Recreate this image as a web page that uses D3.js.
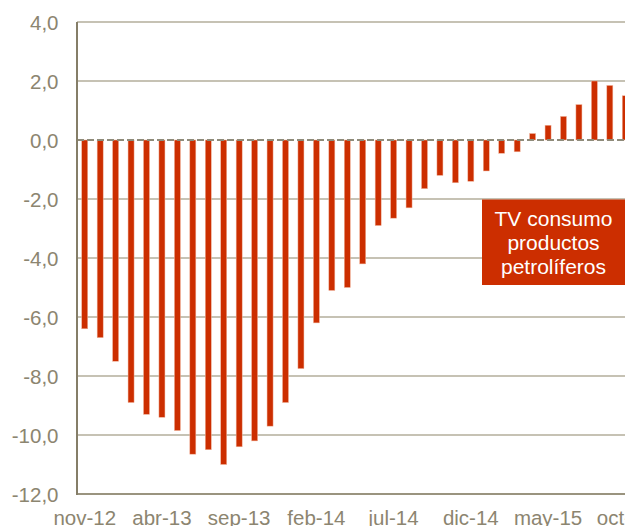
<!DOCTYPE html>
<html><head><meta charset="utf-8">
<script src="https://cdn.jsdelivr.net/npm/d3@7/dist/d3.min.js"></script>
<style>html,body{margin:0;padding:0;background:#fff;overflow:hidden}</style>
</head><body>
<script>
const months = ["nov-12","dic-12","ene-13","feb-13","mar-13","abr-13","may-13","jun-13","jul-13","ago-13","sep-13","oct-13","nov-13","dic-13","ene-14","feb-14","mar-14","abr-14","may-14","jun-14","jul-14","ago-14","sep-14","oct-14","nov-14","dic-14","ene-15","feb-15","mar-15","abr-15","may-15","jun-15","jul-15","ago-15","sep-15","oct-15"];
const values = [-6.4,-6.7,-7.5,-8.9,-9.3,-9.4,-9.85,-10.65,-10.5,-11.0,-10.4,-10.2,-9.7,-8.9,-7.75,-6.2,-5.1,-5.0,-4.2,-2.9,-2.65,-2.3,-1.65,-1.2,-1.45,-1.4,-1.05,-0.45,-0.4,0.22,0.5,0.8,1.2,2.0,1.85,1.5];
const yTicks = [4,2,0,-2,-4,-6,-8,-10,-12];
const xTickLabels = ["nov-12","abr-13","sep-13","feb-14","jul-14","dic-14","may-15","oct-15"];
const boxLines = ["TV consumo","productos","petrolíferos"];

const W = 625, H = 526;
const svg = d3.select("body").append("svg").attr("width", W).attr("height", H)
  .style("font-family", "'Liberation Sans', Arial, sans-serif");

const x = d3.scaleBand().domain(months).range([77, 633]).paddingInner(0.61).paddingOuter(0.305);
const y = d3.scaleLinear().domain([-12, 4]).range([494, 22]);
const txt = "#8c8570";

// gridlines
svg.append("g").selectAll("line").data(yTicks.filter(d => d !== 0)).join("line")
  .attr("x1", 77).attr("x2", W).attr("y1", d => y(d)).attr("y2", d => y(d))
  .attr("stroke", d => d === -12 ? "#9a947f" : "#c6c2b4").attr("stroke-width", 2);

// y labels
svg.append("g").selectAll("text").data(yTicks).join("text")
  .attr("x", 58.5).attr("y", d => y(d) + 7.7)
  .attr("text-anchor", "end").attr("font-size", 20.5).attr("fill", txt)
  .text(d => d3.format(".1f")(d).replace(".", ",").replace("−", "-"));

// bars
svg.append("g").selectAll("rect").data(values).join("rect")
  .attr("x", (d, i) => x(months[i])).attr("width", x.bandwidth())
  .attr("y", d => y(Math.max(0, d))).attr("height", d => Math.abs(y(d) - y(0)))
  .attr("fill", "#cc2e00").attr("stroke", "#f2b8a0").attr("stroke-width", 0.5);

// zero dashed line
svg.append("line").attr("x1", 77).attr("x2", W).attr("y1", y(0)).attr("y2", y(0))
  .attr("stroke", "#8f8b7a").attr("stroke-width", 2).attr("stroke-dasharray", "7,3");

// left axis
svg.append("line").attr("x1", 77).attr("x2", 77).attr("y1", y(4)).attr("y2", y(-12) + 1)
  .attr("stroke", "#857e68").attr("stroke-width", 2);

// x labels
svg.append("g").selectAll("text").data(xTickLabels).join("text")
  .attr("x", d => x(d) + x.bandwidth() / 2).attr("y", 525)
  .attr("text-anchor", "middle").attr("font-size", 20.5).attr("fill", txt)
  .text(d => d);

// label box
svg.append("rect").attr("x", 482).attr("y", 199.5).attr("width", 150).attr("height", 85.5)
  .attr("fill", "#cc2e00");
svg.append("g").selectAll("text").data(boxLines).join("text")
  .attr("x", 553.5).attr("y", (d, i) => 226 + i * 24)
  .attr("text-anchor", "middle").attr("font-size", 21).attr("fill", "#fff")
  .text(d => d);
</script>
</body></html>
